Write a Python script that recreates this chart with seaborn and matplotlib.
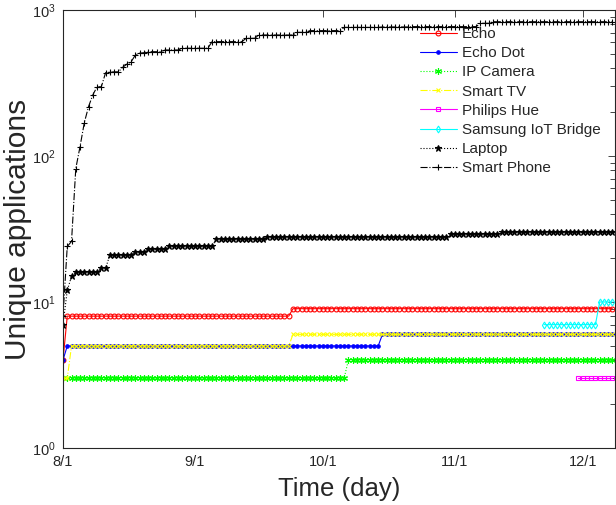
import numpy as np
import matplotlib
matplotlib.use('Agg')
import matplotlib.pyplot as plt
import seaborn as sns

# days since 8/1, one point per day
n_days = 130
days = np.arange(n_days)

# step changes (day, count) for each device
echo_days = [0, 1, 54]
echo_vals = [4, 8, 9]

echodot_days = [0, 1, 75]
echodot_vals = [4, 5, 6]

ipcam_days = [0, 67]
ipcam_vals = [3, 4]

tv_days = [0, 2, 54]
tv_vals = [3, 5, 6]

hue_days = [121]
hue_vals = [3]

samsung_days = [113, 126]
samsung_vals = [7, 10]

laptop_days = [0, 1, 2, 3, 9, 11, 17, 20, 25, 36, 48, 91, 103]
laptop_vals = [7, 12, 15, 16, 17, 21, 22, 23, 24, 27, 28, 29, 30]

phone_days = [0, 1, 2, 3, 4, 5, 6, 7, 8, 10, 11, 12, 14, 15, 16, 17, 18, 19, 20,
              24, 28, 35, 43, 46, 55, 58, 66, 75, 82, 98, 101]
phone_vals = [8, 24, 26, 82, 116, 169, 218, 262, 298, 372, 375, 377, 405, 426, 442,
              492, 506, 510, 518, 532, 547, 607, 640, 674, 703, 722, 760, 765, 769,
              811, 831]

tick_days = [0, 31, 61, 92, 122]
tick_labels = ['8/1', '9/1', '10/1', '11/1', '12/1']


def steps(change_days, change_vals):
    out = np.full(n_days, np.nan)
    for d, v in zip(change_days, change_vals):
        out[d:] = v
    return out


series = [
    ('Echo', steps(echo_days, echo_vals), 'red', '-', 'o', 3.5, 'none'),
    ('Echo Dot', steps(echodot_days, echodot_vals), 'blue', '-', '.', 5, 'blue'),
    ('IP Camera', steps(ipcam_days, ipcam_vals), '#00ff00', ':', (6, 2, 0), 5, '#00ff00'),
    ('Smart TV', steps(tv_days, tv_vals), '#ffff00', '-.', 'x', 3, '#ffff00'),
    ('Philips Hue', steps(hue_days, hue_vals), 'magenta', '-', 's', 3, 'none'),
    ('Samsung IoT Bridge', steps(samsung_days, samsung_vals), 'cyan', '-', 'd', 3.5, 'none'),
    ('Laptop', steps(laptop_days, laptop_vals), 'black', ':', '*', 5, 'black'),
    ('Smart Phone', steps(phone_days, phone_vals), 'black', '-.', '+', 5, 'black'),
]

sns.set_style('white')
plt.rcParams['font.family'] = ['Liberation Sans', 'DejaVu Sans']
plt.rcParams['mathtext.fontset'] = 'custom'
plt.rcParams['mathtext.rm'] = 'Liberation Sans'
plt.rcParams['mathtext.it'] = 'Liberation Sans'

fig = plt.figure(figsize=(6.16, 5.05), dpi=100)
ax = fig.add_axes([63 / 616, 1 - 448 / 505, (615 - 63) / 616, (448 - 10) / 505])

for name, vals, col, ls, mk, ms, mfc in series:
    sns.lineplot(x=days, y=vals, ax=ax, color=col, linestyle=ls, marker=mk,
                 markersize=ms, markerfacecolor=mfc, markeredgecolor=col,
                 markeredgewidth=0.8, linewidth=0.8, label=name)

ax.set_yscale('log')
ax.set_ylim(1, 1000)
ax.set_xlim(0, 129.6)
ax.set_xticks(tick_days)
ax.set_xticklabels(tick_labels)

dark = '#262626'
for sp in ax.spines.values():
    sp.set_color(dark)
    sp.set_linewidth(0.8)
ax.tick_params(which='both', direction='in', top=True, right=True,
               colors=dark, labelsize=10.5, width=0.6)
ax.tick_params(which='major', length=5, pad=5)
ax.tick_params(which='minor', length=3.5)
ax.tick_params(axis='x', which='minor', bottom=False, top=False)

ax.set_xlabel('Time (day)', fontsize=18.5, color=dark, labelpad=6)
ax.set_ylabel('Unique applications', fontsize=21.5, color=dark)
ax.yaxis.set_label_coords(-0.056, 0.5)

ax.legend(loc='upper left', bbox_to_anchor=(420 / 616, 1 - 27 / 505),
          bbox_transform=fig.transFigure, frameon=False, fontsize=11,
          handlelength=2.42, handletextpad=0.33, labelspacing=0.34,
          borderpad=0, borderaxespad=0, numpoints=1)

fig.savefig('out.png', dpi=100)
